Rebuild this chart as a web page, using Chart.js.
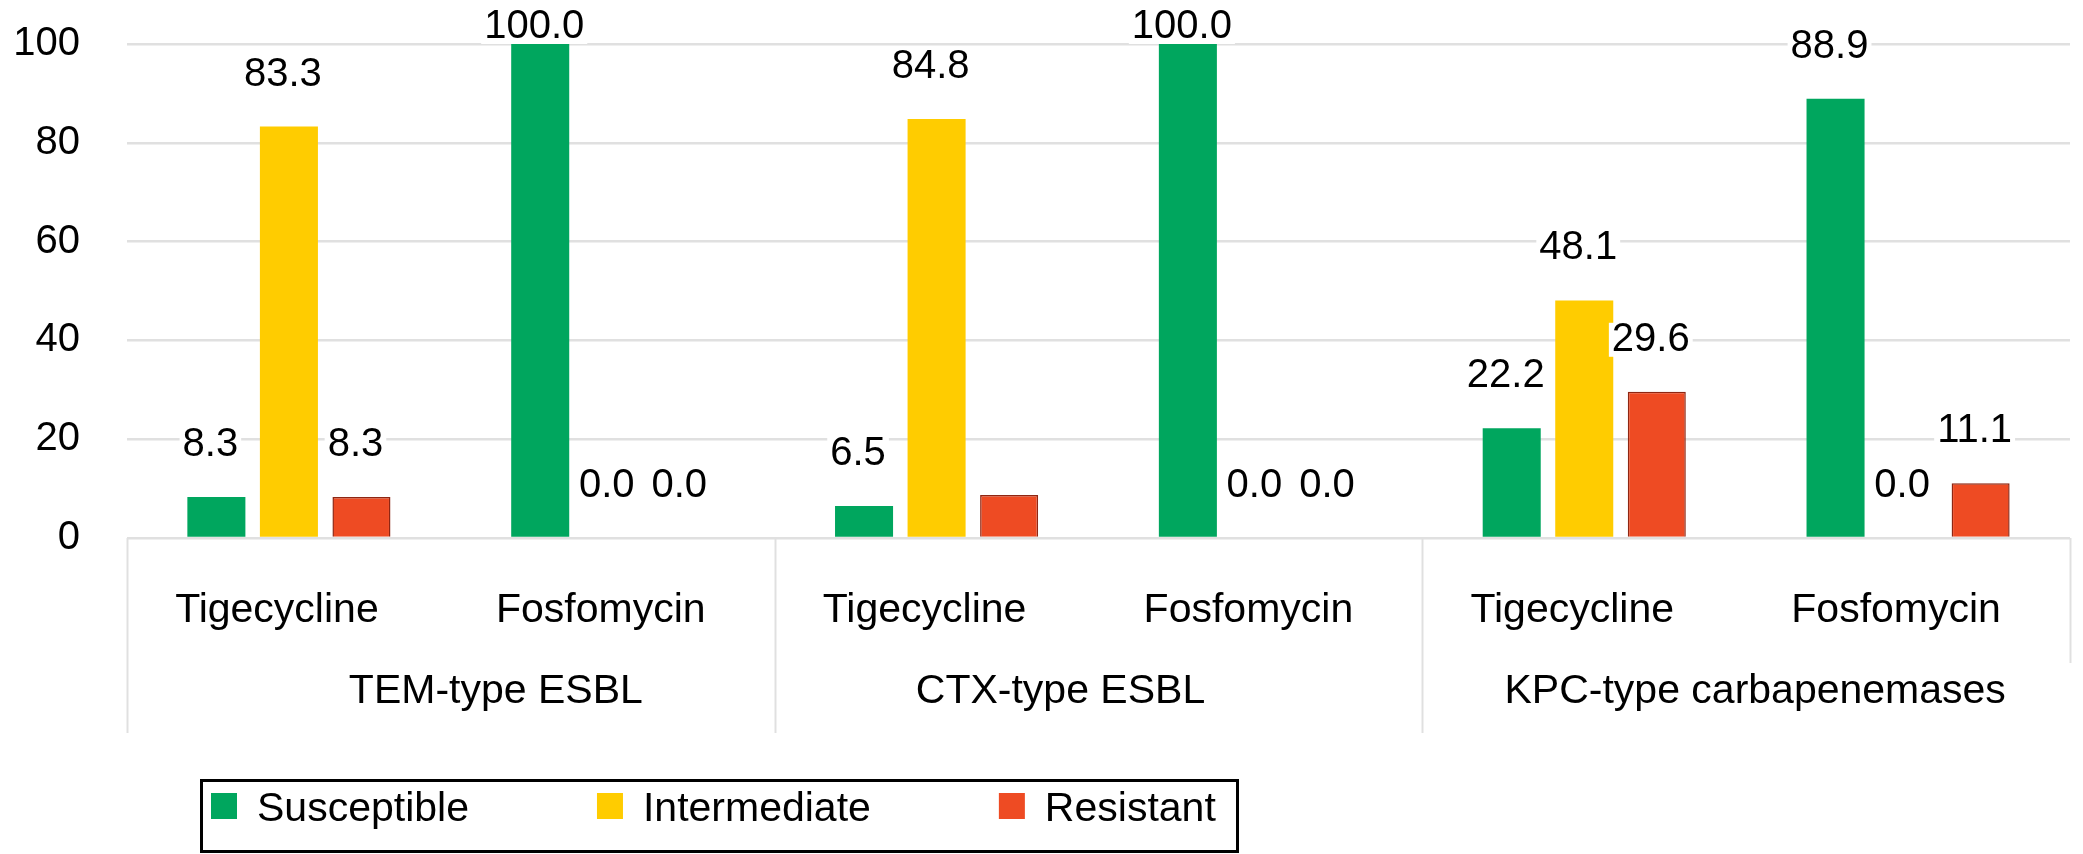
<!DOCTYPE html>
<html>
<head>
<meta charset="utf-8">
<script src="https://cdn.jsdelivr.net/npm/chart.js@4.4.1/dist/chart.umd.min.js"></script>
<style>
  html, body { margin: 0; padding: 0; background: #fff; }
  #wrap { width: 2083px; height: 854px; position: relative; }
</style>
</head>
<body>
<div id="wrap"><canvas id="chart-ab"></canvas></div>
<script>
const drugs = ['Tigecycline', 'Fosfomycin', 'Tigecycline', 'Fosfomycin', 'Tigecycline', 'Fosfomycin'];
const groups = ['TEM-type ESBL', 'CTX-type ESBL', 'KPC-type carbapenemases'];
const susceptible = [8.3, 100.0, 6.5, 100.0, 22.2, 88.9];
const intermediate = [83.3, 0.0, 84.8, 0.0, 48.1, 0.0];
const resistant = [8.3, 0.0, 8.7, 0.0, 29.6, 11.1];
const yTicks = [0, 20, 40, 60, 80, 100];
// value labels that are not printed in the figure: [dataset, index]
const hiddenLabels = [[2, 2]];

const FONT = "'Liberation Sans', Arial, Helvetica, sans-serif";
const GRID = '#e0e0e0';

const valueLabels = {
  id: 'valueLabels',
  afterDatasetsDraw(chart) {
    const { ctx } = chart;
    ctx.save();
    ctx.font = '40px ' + FONT;
    ctx.textAlign = 'center';
    ctx.textBaseline = 'middle';
    chart.data.datasets.forEach((ds, di) => {
      chart.getDatasetMeta(di).data.forEach((bar, i) => {
        if (hiddenLabels.some(h => h[0] === di && h[1] === i)) return;
        const txt = ds.data[i].toFixed(1);
        const x = bar.x - 6;
        const y = Math.max(bar.y - 52, 27);
        const w = ctx.measureText(txt).width;
        ctx.fillStyle = '#fff';
        ctx.fillRect(x - w / 2 - 3, y - 17, w + 6, 34);
        ctx.fillStyle = '#000';
        ctx.fillText(txt, x, y);
      });
    });
    ctx.restore();
  }
};

// second row of the category axis: group names and the divider lines
const groupAxis = {
  id: 'groupAxis',
  afterDraw(chart, args, opts) {
    const { ctx, chartArea: { left, right, bottom } } = chart;
    const xs = chart.scales.x;
    const step = (right - left) / drugs.length;
    ctx.save();
    ctx.strokeStyle = GRID;
    ctx.lineWidth = 2;
    for (let g = 0; g <= groups.length; g++) {
      const x = Math.round(left + g * step * 2) + 0.5;
      ctx.beginPath();
      ctx.moveTo(x, bottom);
      ctx.lineTo(x, g === groups.length ? 663 : 733);
      ctx.stroke();
    }
    ctx.font = '41px ' + FONT;
    ctx.fillStyle = '#000';
    ctx.textAlign = 'center';
    ctx.textBaseline = 'middle';
    groups.forEach((name, g) => {
      const cx = (xs.getPixelForValue(g * 2) + xs.getPixelForValue(g * 2 + 1)) / 2;
      ctx.fillText(name, cx + (opts.shift[g] || 0), 692);
    });
    ctx.restore();
  }
};

const boxLegend = {
  id: 'boxLegend',
  afterDraw(chart) {
    const { ctx } = chart;
    ctx.save();
    ctx.strokeStyle = '#000';
    ctx.lineWidth = 3;
    ctx.strokeRect(201.5, 780.5, 1036, 71);
    ctx.font = '41px ' + FONT;
    ctx.textBaseline = 'middle';
    let x = 211;
    chart.data.datasets.forEach(ds => {
      ctx.fillStyle = ds.backgroundColor;
      ctx.fillRect(x, 793, 26, 26);
      ctx.fillStyle = '#000';
      ctx.fillText(ds.label, x + 46, 810);
      x += 46 + ctx.measureText(ds.label).width + 128;
    });
    ctx.restore();
  }
};

new Chart(document.getElementById('chart-ab'), {
  type: 'bar',
  data: {
    labels: drugs,
    datasets: [
      { label: 'Susceptible', data: susceptible, backgroundColor: '#00a65e' },
      { label: 'Intermediate', data: intermediate, backgroundColor: '#ffcc00' },
      {
        label: 'Resistant', data: resistant, backgroundColor: '#ee4b23',
        borderColor: '#8f2612', borderWidth: c => (c.raw > 0 ? 1.5 : 0)
      }
    ]
  },
  options: {
    responsive: true,
    maintainAspectRatio: false,
    animation: false,
    layout: { padding: { left: 0, right: 13, top: 44, bottom: 0 } },
    datasets: { bar: { categoryPercentage: 0.672, barPercentage: 0.8 } },
    plugins: {
      legend: { display: false },
      tooltip: { enabled: false },
      groupAxis: { shift: [45, -38, 9] }
    },
    scales: {
      x: {
        grid: { display: false },
        border: { display: false },
        ticks: { color: '#000', padding: 40, labelOffset: -12, maxRotation: 0, font: { family: FONT, size: 41 } },
        afterFit: s => { s.height = 316; }
      },
      y: {
        min: 0,
        max: 100,
        afterBuildTicks: s => { s.ticks = yTicks.map(v => ({ value: v })); },
        grid: { color: GRID, lineWidth: 2.5, drawTicks: false },
        border: { display: false },
        ticks: { color: '#000', padding: 47, font: { family: FONT, size: 40 } },
        afterFit: s => { s.width = 127; s.paddingTop = 0; s.paddingBottom = 0; }
      }
    }
  },
  plugins: [valueLabels, groupAxis, boxLegend]
});
</script>
</body>
</html>
